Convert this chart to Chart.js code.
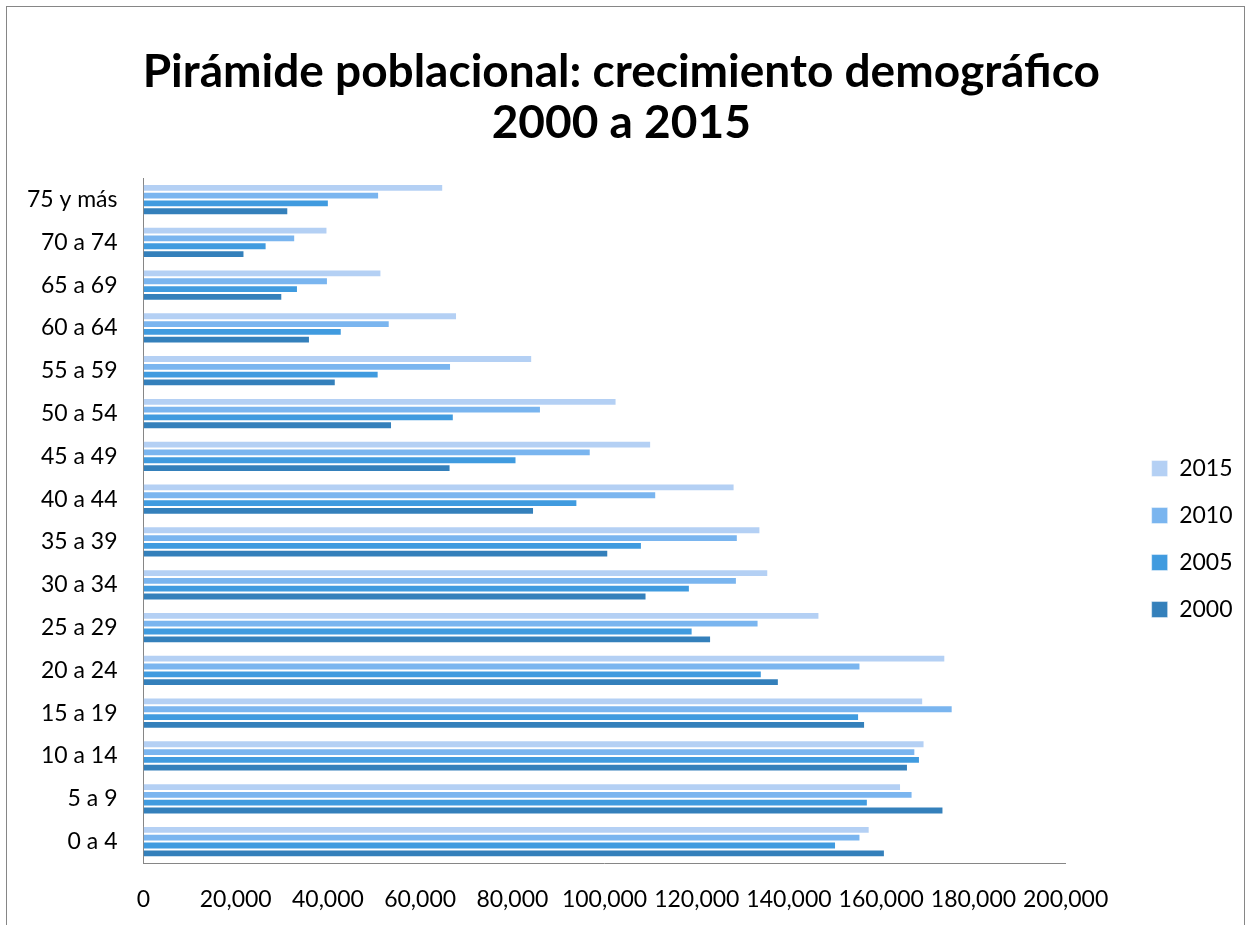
<!DOCTYPE html>
<html>
<head>
<meta charset="utf-8">
<script src="https://cdn.jsdelivr.net/npm/chart.js@4/dist/chart.umd.min.js"></script>
<style>
  html, body { margin: 0; padding: 0; background: #ffffff; }
  #wrap { position: relative; width: 1253px; height: 925px; }
  canvas { display: block; }
</style>
</head>
<body>
<div id="wrap"><canvas id="c" width="1253" height="925"></canvas></div>
<script>
// ---- Data ----
const titleLines = ['Pirámide poblacional: crecimiento demográfico', '2000 a 2015'];
const categories = ['75 y más', '70 a 74', '65 a 69', '60 a 64', '55 a 59', '50 a 54', '45 a 49', '40 a 44',
                    '35 a 39', '30 a 34', '25 a 29', '20 a 24', '15 a 19', '10 a 14', '5 a 9', '0 a 4'];
const seriesNames = ['2015', '2010', '2005', '2000'];
const values2015 = [65000, 39900, 51600, 68000, 84300, 102600, 110100, 128200, 133800, 135500, 146600, 173900, 169100, 169400, 164300, 157500];
const values2010 = [51100, 32900, 40000, 53400, 66700, 86200, 97000, 111200, 128900, 128700, 133400, 155500, 175500, 167400, 166800, 155500];
const values2005 = [40200, 26700, 33500, 43000, 51000, 67300, 80900, 94100, 108100, 118500, 119100, 134100, 155200, 168400, 157100, 150200];
const values2000 = [31400, 21900, 30100, 36100, 41700, 53900, 66600, 84700, 100800, 109100, 123100, 137800, 156500, 165800, 173500, 160800];
const xTickValues = [0, 20000, 40000, 60000, 80000, 100000, 120000, 140000, 160000, 180000, 200000];
const xTickLabels = ['0', '20,000', '40,000', '60,000', '80,000', '100,000', '120,000', '140,000', '160,000', '180,000', '200,000'];
const seriesColors = ['#B4D0F4', '#7AB5EF', '#409BDF', '#3480BB'];

const seriesValues = [values2015, values2010, values2005, values2000];
const FONT = 'Lato, "Open Sans", "DejaVu Sans", sans-serif';

const frame = {
  id: 'frame',
  beforeDraw(chart) {
    const ctx = chart.ctx;
    ctx.save();
    ctx.fillStyle = '#ffffff';
    ctx.fillRect(0, 0, chart.width, chart.height);
    ctx.strokeStyle = '#868686';
    ctx.lineWidth = 1;
    ctx.strokeRect(6.5, 6.5, 1238, 940);
    ctx.restore();
  }
};

new Chart(document.getElementById('c'), {
  type: 'bar',
  data: {
    labels: categories,
    datasets: seriesNames.map((name, i) => ({
      label: name,
      data: seriesValues[i],
      backgroundColor: seriesColors[i],
      borderColor: 'rgba(255,255,255,0.45)',
      borderWidth: 1,
      categoryPercentage: 0.73,
      barPercentage: 1.0
    }))
  },
  options: {
    indexAxis: 'y',
    responsive: false,
    animation: false,
    devicePixelRatio: 1,
    layout: { padding: { left: 0, right: 10.5, top: 0, bottom: 0 } },
    plugins: {
      title: {
        display: true,
        text: titleLines,
        color: '#000000',
        font: { family: FONT, size: 46, weight: 'bold', lineHeight: 1.11 },
        padding: { top: 46.5, bottom: 29.5 }
      },
      legend: {
        display: true,
        position: 'right',
        fullSize: false,
        align: 'center',
        title: { display: true, text: '', font: { size: 10, lineHeight: 1.2 }, padding: { top: 0, bottom: 25 } },
        labels: {
          color: '#000000',
          font: { family: FONT, size: 23 },
          boxWidth: 16,
          boxHeight: 16,
          padding: 24
        }
      },
      tooltip: { enabled: false }
    },
    scales: {
      x: {
        type: 'linear',
        position: 'bottom',
        min: 0,
        max: 200000,
        afterBuildTicks(scale) { scale.ticks = xTickValues.map(v => ({ value: v })); },
        afterFit(scale) { scale.height = 62; },
        grid: { display: false, drawTicks: false },
        border: { display: true, color: '#868686', width: 1 },
        ticks: {
          color: '#000000',
          font: { family: FONT, size: 23 },
          padding: 22.5,
          maxRotation: 0,
          autoSkip: false,
          callback: (v, i) => xTickLabels[i]
        }
      },
      y: {
        type: 'category',
        position: 'left',
        afterFit(scale) { scale.width = 143.5; },
        grid: { display: false, drawTicks: false },
        border: { display: true, color: '#868686', width: 1 },
        ticks: {
          color: '#000000',
          font: { family: FONT, size: 23 },
          padding: 26,
          autoSkip: false
        }
      },
      spacer: {
        type: 'linear',
        axis: 'y',
        position: 'right',
        display: true,
        afterFit(scale) { scale.width = 62; },
        grid: { display: false, drawTicks: false },
        border: { display: false },
        ticks: { display: false }
      }
    }
  },
  plugins: [frame]
});
</script>
</body>
</html>
